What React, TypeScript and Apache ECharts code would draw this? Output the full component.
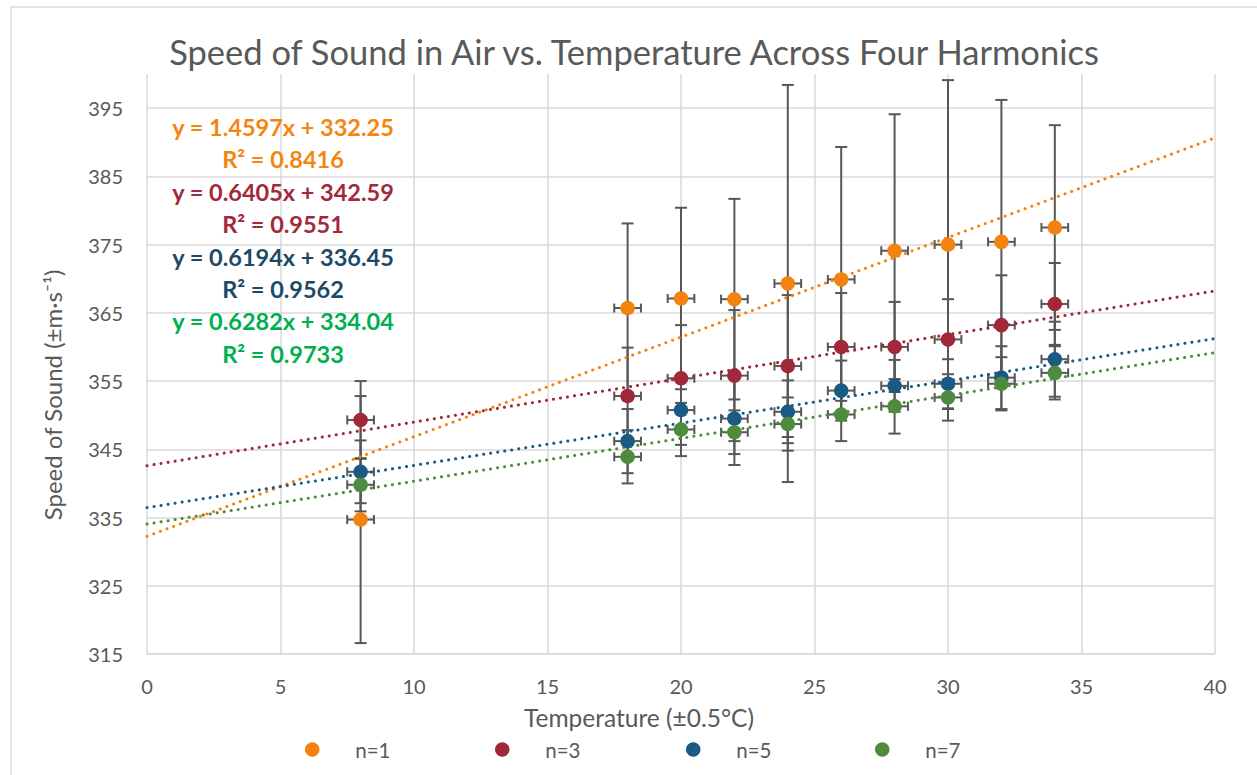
import React, { useEffect, useRef } from "react";
import * as echarts from "echarts";

// ---------- data ----------
const TEMPS = [8, 18, 20, 22, 24, 26, 28, 30, 32, 34];
const TEMP_ERR = 0.5;
const SERIES_NAMES = ["n=1", "n=3", "n=5", "n=7"];
const N1 = [334.7, 365.7, 367.1, 367.0, 369.3, 369.9, 374.1, 375.0, 375.4, 377.5];
const N1_ERR = [18.1, 12.4, 13.3, 14.7, 29.1, 19.4, 20.0, 24.1, 20.8, 15.0];
const N3 = [349.3, 352.8, 355.4, 355.8, 357.2, 360.0, 360.0, 361.1, 363.2, 366.3];
const N3_ERR = [5.7, 7.1, 7.8, 9.6, 10.4, 7.9, 6.6, 5.9, 7.3, 6.0];
const N5 = [341.7, 346.2, 350.75, 349.5, 350.5, 353.6, 354.3, 354.6, 355.5, 358.2];
const N5_ERR = [4.6, 4.7, 5.1, 6.8, 4.6, 4.4, 3.8, 3.6, 4.6, 5.5];
const N7 = [339.8, 343.9, 347.9, 347.5, 348.7, 350.1, 351.3, 352.6, 354.6, 356.2];
const N7_ERR = [3.9, 3.9, 3.9, 3.2, 3.9, 3.9, 4.0, 3.4, 3.9, 3.9];
const SLOPES = [1.4597, 0.6405, 0.6194, 0.6282];
const INTERCEPTS = [332.25, 342.59, 336.45, 334.04];
const R2 = [0.8416, 0.9551, 0.9562, 0.9733];
const X_MIN = 0;
const X_MAX = 40;
const X_INTERVAL = 5;
const Y_MIN = 315;
const Y_MAX = 400;
const Y_TICKS = [315, 325, 335, 345, 355, 365, 375, 385, 395];

const VALUES = [N1, N3, N5, N7];
const ERRORS = [N1_ERR, N3_ERR, N5_ERR, N7_ERR];

// ---------- styles ----------
const MARKER_COLORS = ["#F4820F", "#A1283A", "#1B5A82", "#4E8B3F"];
const EQ_COLORS = ["#F4860F", "#A2283A", "#1C4966", "#00B050"];
const TEXT_GRAY = "#595959";
const GRID_GRAY = "#D9D9D9";
const ERR_GRAY = "#575757";
const FONT = "Lato, 'Noto Sans', sans-serif";
const LEGEND_CENTERS = [313, 503, 694, 883];

export default function App() {
  const ref = useRef<HTMLDivElement>(null);

  useEffect(() => {
    if (!ref.current) return;
    const chart = echarts.init(ref.current, undefined, { renderer: "svg" });

    const errorSeries = VALUES.map((vals, si) => ({
      type: "custom",
      name: "err " + SERIES_NAMES[si],
      z: 2,
      silent: true,
      encode: { x: 0, y: 1 },
      data: TEMPS.map((t, i) => [t, vals[i], ERRORS[si][i]]),
      renderItem: (_params: any, api: any) => {
        const x = api.value(0);
        const y = api.value(1);
        const e = api.value(2);
        const top = api.coord([x, y + e]);
        const bot = api.coord([x, y - e]);
        const l = api.coord([x - TEMP_ERR, y]);
        const r = api.coord([x + TEMP_ERR, y]);
        const st = { stroke: ERR_GRAY, lineWidth: 2 };
        const capW = 6;
        const capH = 4.5;
        return {
          type: "group",
          children: [
            { type: "line", shape: { x1: top[0], y1: top[1], x2: bot[0], y2: bot[1] }, style: st },
            { type: "line", shape: { x1: top[0] - capW, y1: top[1], x2: top[0] + capW, y2: top[1] }, style: st },
            { type: "line", shape: { x1: bot[0] - capW, y1: bot[1], x2: bot[0] + capW, y2: bot[1] }, style: st },
            { type: "line", shape: { x1: l[0], y1: l[1], x2: r[0], y2: r[1] }, style: st },
            { type: "line", shape: { x1: l[0], y1: l[1] - capH, x2: l[0], y2: l[1] + capH }, style: st },
            { type: "line", shape: { x1: r[0], y1: r[1] - capH, x2: r[0], y2: r[1] + capH }, style: st },
          ],
        };
      },
      ...(si === 0
        ? {
            markLine: {
              silent: true,
              z: 1,
              symbol: "none",
              animation: false,
              label: { show: false },
              lineStyle: { color: GRID_GRAY, width: 1.5, type: "solid" },
              data: Y_TICKS.map((v) => ({ yAxis: v })),
            },
          }
        : {}),
    }));

    const trendSeries = SLOPES.map((m, si) => ({
      type: "line",
      name: "trend " + SERIES_NAMES[si],
      z: 3,
      silent: true,
      showSymbol: false,
      symbol: "none",
      data: [
        [X_MIN, INTERCEPTS[si] + m * X_MIN],
        [X_MAX, INTERCEPTS[si] + m * X_MAX],
      ],
      lineStyle: { color: MARKER_COLORS[si], width: 3, type: [0.1, 7], cap: "round" },
    }));

    const scatterSeries = VALUES.map((vals, si) => ({
      type: "scatter",
      name: SERIES_NAMES[si],
      z: 4,
      symbol: "circle",
      symbolSize: 14.5,
      itemStyle: { color: MARKER_COLORS[si], opacity: 1 },
      data: TEMPS.map((t, i) => [t, vals[i]]),
    }));

    const eqGraphics: any[] = [];
    SLOPES.forEach((m, si) => {
      const lines = [
        `y = ${m.toFixed(4)}x + ${INTERCEPTS[si].toFixed(2)}`,
        `R² = ${R2[si].toFixed(4)}`,
      ];
      lines.forEach((txt, li) => {
        eqGraphics.push({
          type: "text",
          x: 283,
          y: 127 + (si * 2 + li) * 32.4,
          silent: true,
          style: {
            text: txt,
            fill: EQ_COLORS[si],
            font: `bold 23.5px ${FONT}`,
            textAlign: "center",
            textVerticalAlign: "middle",
          },
          z: 10,
        });
      });
    });

    const option: any = {
      animation: false,
      backgroundColor: "#ffffff",
      grid: {
        left: 147,
        right: 42,
        top: 74,
        bottom: 121,
        containLabel: false,
        outerBoundsMode: "none",
      },
      xAxis: {
        type: "value",
        min: X_MIN,
        max: X_MAX,
        interval: X_INTERVAL,
        axisLine: { show: true, lineStyle: { color: GRID_GRAY, width: 1.5 } },
        axisTick: { show: false },
        splitLine: { show: true, lineStyle: { color: GRID_GRAY, width: 1.5 } },
        axisLabel: { color: TEXT_GRAY, fontFamily: FONT, fontSize: 20, margin: 22 },
      },
      yAxis: {
        type: "value",
        min: Y_MIN,
        max: Y_MAX,
        axisLine: { show: false },
        axisTick: { show: false },
        splitLine: { show: false },
        axisLabel: {
          color: TEXT_GRAY,
          fontFamily: FONT,
          fontSize: 20,
          margin: 24,
          customValues: Y_TICKS,
        },
      },
      legend: SERIES_NAMES.map((n, i) => ({
        data: [{ name: n, icon: "circle" }],
        left: LEGEND_CENTERS[i] - 8,
        top: 739,
        padding: 0,
        itemWidth: 76,
        itemHeight: 14.5,
        itemGap: 5,
        selectedMode: false,
        textStyle: { color: TEXT_GRAY, fontFamily: FONT, fontSize: 20.5 },
      })),
      graphic: [
        {
          type: "rect",
          silent: true,
          z: -10,
          shape: { x: 11, y: 7, width: 1300, height: 820 },
          style: { fill: "none", stroke: GRID_GRAY, lineWidth: 1.5 },
        },
        {
          type: "text",
          x: 634,
          y: 51,
          silent: true,
          style: {
            text: "Speed of Sound in Air vs. Temperature Across Four Harmonics",
            fill: TEXT_GRAY,
            font: `34.5px ${FONT}`,
            textAlign: "center",
            textVerticalAlign: "middle",
          },
        },
        {
          type: "text",
          x: 639,
          y: 717,
          silent: true,
          style: {
            text: "Temperature (±0.5°C)",
            fill: TEXT_GRAY,
            font: `24.5px ${FONT}`,
            textAlign: "center",
            textVerticalAlign: "middle",
          },
        },
        {
          type: "text",
          x: 52,
          y: 395,
          rotation: Math.PI / 2,
          silent: true,
          style: {
            text: "Speed of Sound (±m·s⁻¹)",
            fill: TEXT_GRAY,
            font: `24px ${FONT}`,
            textAlign: "center",
            textVerticalAlign: "middle",
          },
        },
        ...eqGraphics,
      ],
      series: [...errorSeries, ...trendSeries, ...scatterSeries],
    };

    chart.setOption(option);
    return () => chart.dispose();
  }, []);

  return (
    <div
      ref={ref}
      style={{ position: "absolute", left: 0, top: 0, width: 1257, height: 775, background: "#fff" }}
    />
  );
}
